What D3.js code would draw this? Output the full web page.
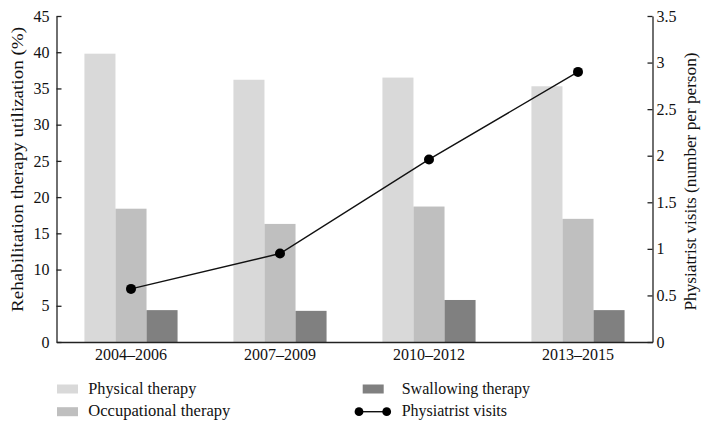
<!DOCTYPE html>
<html><head><meta charset="utf-8">
<script src="https://cdn.jsdelivr.net/npm/d3@7"></script>
<style>body{margin:0;background:#fff}svg{display:block}text{font-family:"Liberation Serif","DejaVu Serif",serif;fill:#111}</style>
</head><body>
<svg id="c" width="711" height="430"></svg>
<script>
const categories = ["2004–2006","2007–2009","2010–2012","2013–2015"];
const physical = [39.8, 36.2, 36.5, 35.3];
const occupational = [18.4, 16.3, 18.7, 17.0];
const swallowing = [4.4, 4.3, 5.8, 4.4];
const physiatrist = [0.57, 0.95, 1.96, 2.90];
const leftTicks = [0,5,10,15,20,25,30,35,40,45];
const rightTicks = [0,0.5,1,1.5,2,2.5,3,3.5];
const barSeries = [
  {name:"Physical therapy", values:physical, color:"#d9d9d9"},
  {name:"Occupational therapy", values:occupational, color:"#bfbfbf"},
  {name:"Swallowing therapy", values:swallowing, color:"#808080"}
];

const svg = d3.select("#c");
const L = 56.5, R = 652.5, T = 16, B = 342;
const x = d3.scaleBand().domain(categories).range([L, R]).padding(0);
const yL = d3.scaleLinear().domain([0,45]).range([B, T]);
const yR = d3.scaleLinear().domain([0,3.5]).range([B, T]);
const groupW = x.bandwidth()*0.625;
const xs = d3.scaleBand().domain(barSeries.map(d=>d.name)).range([0, groupW]).padding(0);

// bars
barSeries.forEach(s => {
  svg.append("g").selectAll("rect").data(categories).join("rect")
    .attr("x", (c)=> x(c) + (x.bandwidth()-groupW)/2 + xs(s.name))
    .attr("width", xs.bandwidth())
    .attr("y", (c,i)=> yL(s.values[i]))
    .attr("height", (c,i)=> B - yL(s.values[i]))
    .attr("fill", s.color);
});

// axes
const gl = svg.append("g").attr("transform",`translate(${L},0)`)
  .call(d3.axisLeft(yL).tickValues(leftTicks).tickSizeInner(-5).tickSizeOuter(0).tickPadding(7).tickFormat(d3.format("d")));
const gr = svg.append("g").attr("transform",`translate(${R},0)`)
  .call(d3.axisRight(yR).tickValues(rightTicks).tickSizeInner(-5).tickSizeOuter(0).tickPadding(7).tickFormat(d=>String(d)));
const gb = svg.append("g").attr("transform",`translate(0,${B})`)
  .call(d3.axisBottom(x).tickSize(0).tickPadding(7));
[gl,gr,gb].forEach(g=>{
  g.attr("font-family",null).attr("font-size",null);
  g.selectAll("text").style("font-size","16px").attr("fill","#111");
  g.selectAll("line,path").attr("stroke","#222").attr("stroke-width",1.3);
});
gr.selectAll(".tick text").attr("x",4);

// line
const line = d3.line().x((d,i)=>x(categories[i])+x.bandwidth()/2).y(d=>yR(d));
svg.append("path").datum(physiatrist).attr("d",line).attr("fill","none").attr("stroke","#111").attr("stroke-width",1.4);
svg.append("g").selectAll("circle").data(physiatrist).join("circle")
  .attr("cx",(d,i)=>x(categories[i])+x.bandwidth()/2).attr("cy",d=>yR(d)).attr("r",5).attr("fill","#000");

// axis titles
svg.append("text").attr("transform",`translate(19,169.5) rotate(-90)`).attr("text-anchor","middle")
  .attr("dominant-baseline","middle").style("font-size","17px")
  .attr("textLength",285).attr("lengthAdjust","spacingAndGlyphs").text("Rehabilitation therapy utilization (%)");
svg.append("text").attr("transform",`translate(692,181.5) rotate(-90)`).attr("text-anchor","middle")
  .attr("dominant-baseline","middle").style("font-size","17px")
  .attr("textLength",258).attr("lengthAdjust","spacingAndGlyphs").text("Physiatrist visits (number per person)");

// legend
const leg = [
  {name:"Physical therapy", type:"bar", color:"#d9d9d9", x:57, y:389, tx:88.3, w:108},
  {name:"Occupational therapy", type:"bar", color:"#bfbfbf", x:57, y:411.7, tx:88.3, w:142},
  {name:"Swallowing therapy", type:"bar", color:"#808080", x:362.7, y:389, tx:401.7, w:null},
  {name:"Physiatrist visits", type:"line", x:359, y:411.7, tx:401.7, w:null}
];
leg.forEach(d=>{
  if(d.type==="bar"){
    svg.append("rect").attr("x",d.x).attr("y",d.y-4.5).attr("width",21).attr("height",9).attr("fill",d.color);
  } else {
    svg.append("line").attr("x1",d.x).attr("x2",d.x+27.7).attr("y1",d.y).attr("y2",d.y).attr("stroke","#111").attr("stroke-width",1.4);
    svg.append("circle").attr("cx",d.x).attr("cy",d.y).attr("r",4.4).attr("fill","#000");
    svg.append("circle").attr("cx",d.x+27.7).attr("cy",d.y).attr("r",4.4).attr("fill","#000");
  }
  const t = svg.append("text").attr("x", d.tx).attr("y",d.y+4.5)
    .style("font-size","16px").text(d.name);
  if(d.w) t.attr("textLength",d.w).attr("lengthAdjust","spacingAndGlyphs");
});
</script>
</body></html>
